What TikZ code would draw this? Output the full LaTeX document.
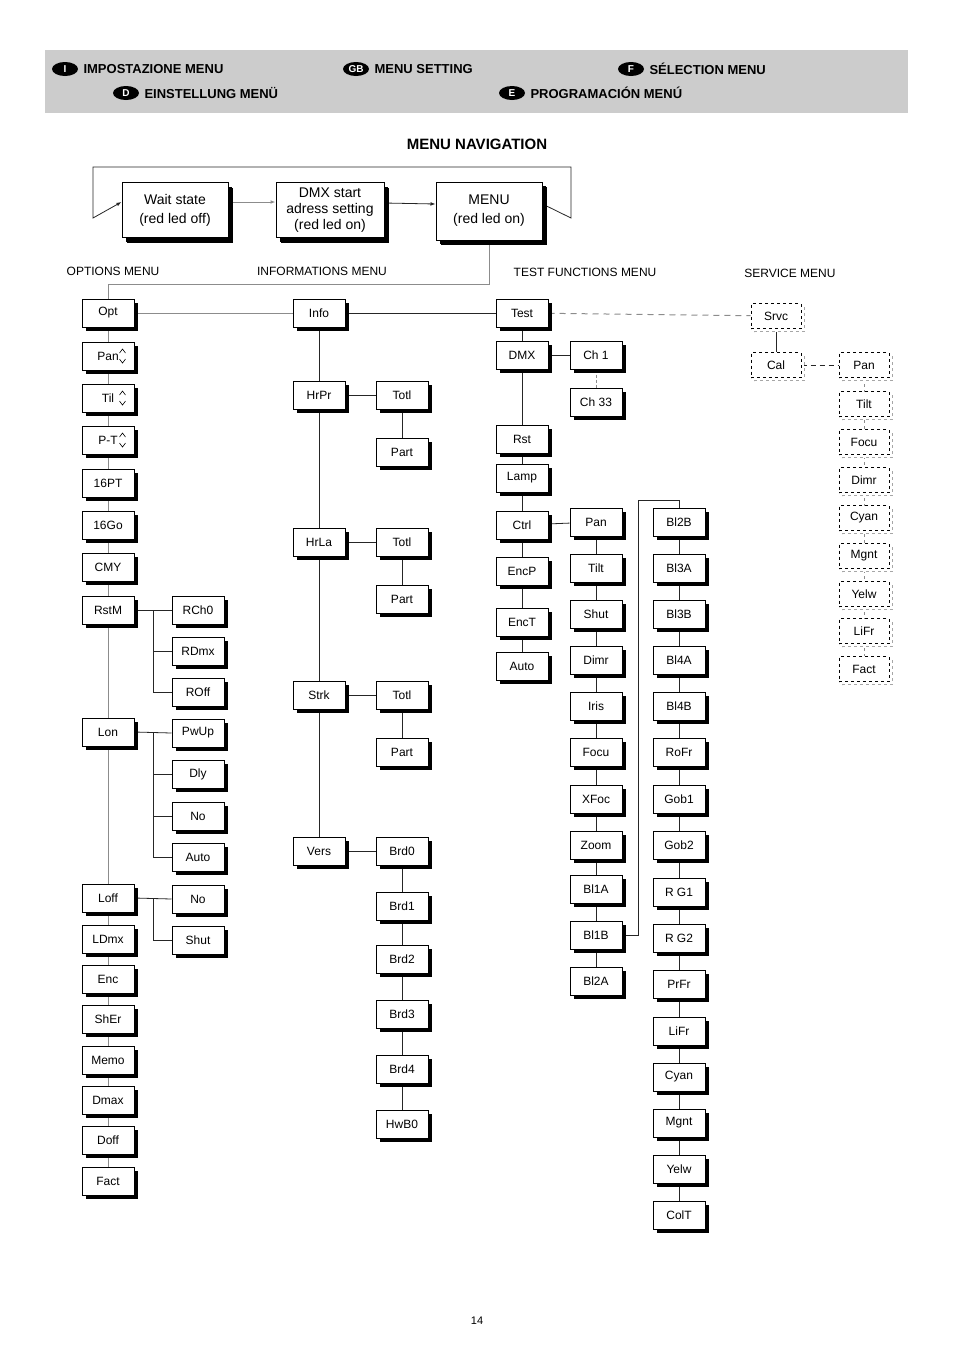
\documentclass[tikz,border=0pt]{standalone}
\usepackage{fontspec}
\setmainfont{Liberation Sans}
\usetikzlibrary{shadows,arrows.meta}
\pgfdeclarelayer{bg}\pgfsetlayers{bg,main}
\begin{document}
\begin{tikzpicture}[x=1pt,y=-1pt,
 bx/.style={draw,line width=1pt,fill=white,minimum width=52pt,minimum height=28pt,inner sep=1pt,font=\fontsize{12}{14}\selectfont,
   drop shadow={shadow xshift=4pt,shadow yshift=-4pt,fill=black,opacity=1}},
 big/.style={bx,minimum width=106pt,minimum height=55pt,align=center,font=\fontsize{14}{16}\selectfont,drop shadow={shadow xshift=5pt,shadow yshift=-5pt,fill=black,opacity=1}},
 sv/.style={draw,dashed,line width=1pt,fill=white,minimum width=50pt,minimum height=25pt,inner sep=1pt,font=\fontsize{12}{14}\selectfont,
   general shadow={shadow xshift=3pt,shadow yshift=-3pt,draw=gray!70,dashed,fill=white}},
 ln/.style={line width=0.8pt,draw=black!85},
 gl/.style={line width=1pt,draw=black!45},
 lab/.style={font=\fontsize{12}{14}\selectfont},
 badge/.style={fill=black,text=white,ellipse,inner sep=1pt,minimum width=26pt,minimum height=14pt,font=\bfseries\fontsize{10}{10}\selectfont},
 hd/.style={font=\bfseries\fontsize{13}{14}\selectfont,anchor=west}]
\usetikzlibrary{shapes.geometric}
\useasboundingbox (0,0) rectangle (954,1350);
\fill[black!20] (45,50) rectangle (908,113);
\node[badge] (b1) at (65,69) {I}; \node[hd] (h1) at (80,69) {IMPOSTAZIONE MENU};
\node[badge] (b2) at (356,69) {GB}; \node[hd] (h2) at (371,69) {MENU SETTING};
\node[badge] (b3) at (631,69) {F}; \node[hd] (h3) at (646,69) {SÉLECTION MENU};
\node[badge] (b4) at (126,93) {D}; \node[hd] (h4) at (141,93) {EINSTELLUNG MENÜ};
\node[badge] (b5) at (512,93) {E}; \node[hd] (h5) at (527,93) {PROGRAMACIÓN MENÚ};
\node[font=\bfseries\fontsize{15}{16}\selectfont] (title) at (477,144) {MENU NAVIGATION};
\node[big] (wait) at (175,210) {Wait state\\[3pt](red led off)};
\node[big,minimum width=108pt] (dmxs) at (330,210) {DMX start\\adress setting\\(red led on)};
\node[big,minimum height=58pt] (menu) at (489,211) {MENU\\[3pt](red led on)};
\node[lab] (l1) at (113,271) {OPTIONS MENU};
\node[lab] (l2) at (322,271) {INFORMATIONS MENU};
\node[lab] (l3) at (585,272) {TEST FUNCTIONS MENU};
\node[lab] (l4) at (790,273) {SERVICE MENU};
\node[font=\fontsize{11}{12}\selectfont] (pg) at (477,1321) {14};
% options
\foreach \n/\t/\y in {opt/Opt/313,pan/{Pan\hspace{10pt}}/356,til/{Til\hspace{10pt}}/398,pt/{P-T\hspace{10pt}}/440,p16/16PT/483,g16/16Go/525,cmy/CMY/567,rstm/RstM/610,lon/Lon/732,loff/Loff/898,ldmx/LDmx/939,enc/Enc/979,sher/ShEr/1019,memo/Memo/1060,dmax/Dmax/1100,doff/Doff/1140,fact/Fact/1181}
  \node[bx] (\n) at (108,\y) {\t};
\foreach \n in {pan,til,pt}{
 \draw[line width=0.6pt] ([xshift=-15pt,yshift=-3pt]\n.east) -- ([xshift=-12pt,yshift=-7pt]\n.east) -- ([xshift=-9pt,yshift=-3pt]\n.east);
 \draw[line width=0.6pt] ([xshift=-15pt,yshift=3pt]\n.east) -- ([xshift=-12pt,yshift=7pt]\n.east) -- ([xshift=-9pt,yshift=3pt]\n.east);}
\foreach \n/\t/\y in {rch/RCh0/610,rdmx/RDmx/651,roff/ROff/692,pwup/PwUp/733,dly/Dly/774,no1/No/816,auto1/Auto/857,no2/No/899,shut1/Shut/940}
  \node[bx] (\n) at (198,\y) {\t};
% info
\foreach \n/\t/\y in {info/Info/313,hrpr/HrPr/395,hrla/HrLa/542,strk/Strk/695,vers/Vers/851}
  \node[bx] (\n) at (319,\y) {\t};
\foreach \n/\t/\y in {tot1/Totl/395,par1/Part/452,tot2/Totl/542,par2/Part/599,tot3/Totl/695,par3/Part/752,brd0/Brd0/851,brd1/Brd1/906,brd2/Brd2/959,brd3/Brd3/1014,brd4/Brd4/1069,hwb0/HwB0/1124}
  \node[bx] (\n) at (402,\y) {\t};
% test
\foreach \n/\t/\y in {test/Test/313,dmx/DMX/355,rst/Rst/439,lamp/Lamp/478,ctrl/Ctrl/525,encp/EncP/571,enct/EncT/622,auto2/Auto/666}
  \node[bx] (\n) at (522,\y) {\t};
\node[bx] (ch1) at (596,355) {Ch 1};
\node[bx] (ch33) at (596,402) {Ch 33};
\foreach \n/\t/\y in {cpan/Pan/522,ctilt/Tilt/568,cshut/Shut/614,cdimr/Dimr/660,ciris/Iris/706,cfocu/Focu/752,cxfoc/XFoc/799,czoom/Zoom/845,bla/Bl1A/889,blb/Bl1B/935,bl2a/Bl2A/981}
  \node[bx] (\n) at (596,\y) {\t};
\foreach \n/\t/\y in {bl2b/Bl2B/522,bl3a/Bl3A/568,bl3b/Bl3B/614,bl4a/Bl4A/660,bl4b/Bl4B/706,rofr/RoFr/752,gob1/Gob1/799,gob2/Gob2/845,rg1/R G1/892,rg2/R G2/938,prfr/PrFr/984,lifr/LiFr/1031,cyan/Cyan/1077,mgnt/Mgnt/1123,yelw/Yelw/1169,colt/ColT/1215}
  \node[bx] (\n) at (679,\y) {\t};
% service
\node[sv] (srvc) at (776,316) {Srvc};
\node[sv] (cal) at (776,365) {Cal};
\foreach \n/\t/\y in {span/Pan/365,stilt/Tilt/404,sfocu/Focu/442,sdimr/Dimr/480,scyan/Cyan/518,smgnt/Mgnt/556,syelw/Yelw/594,slifr/LiFr/631,sfact/Fact/669}
  \node[sv] (\n) at (864,\y) {\t};
\coordinate (c1) at (571,218); \coordinate (c2) at (93,218);
\coordinate (bt) at (638,500);
\begin{pgfonlayer}{bg}
\draw[ln,-{Latex[length=5pt]}] ([yshift=7pt]menu.east) -- (c1) |- (93,167) -- (c2) -- ([yshift=8pt]wait.west);
\draw[gl,-{Latex[length=5pt]}] ([yshift=8pt]wait.east) -- ([yshift=8pt]dmxs.west);
\draw[ln,-{Latex[length=5pt]}] ([yshift=7pt]dmxs.east) -- ([yshift=7pt]menu.west);
\draw[gl] (menu.south) -- (489,284) -| (opt.north);
\draw[gl] (opt) -- (info);
\draw[ln] (info) -- (test);
\draw[dashed,gl,dash pattern=on 6pt off 5pt] (test) -- (srvc);
\draw[ln] (srvc) -- (cal);
\draw[dashed,ln,dash pattern=on 5pt off 4pt] (cal) -- (span);
\draw[dashed,gl,line width=0.7pt] (span) -- (sfact);
\draw[gl,line width=0.8pt] (opt) -- (fact);
\draw[ln] (rstm.east) -- (rch.west); \draw[ln] (153,610) |- (roff.west); \draw[ln] (153,651) -- (rdmx.west);
\draw[ln] (lon.east) -- (pwup.west); \draw[ln] (153,733) |- (auto1.west); \draw[ln] (153,774) -- (dly.west); \draw[ln] (153,816) -- (no1.west);
\draw[ln] (loff.east) -- (no2.west); \draw[ln] (153,899) |- (shut1.west);
\draw[ln] (info) -- (vers);
\draw[ln] (hrpr) -- (tot1); \draw[ln] (tot1) -- (par1);
\draw[ln] (hrla) -- (tot2); \draw[ln] (tot2) -- (par2);
\draw[ln] (strk) -- (tot3); \draw[ln] (tot3) -- (par3);
\draw[ln] (vers) -- (brd0); \draw[ln] (brd0) -- (hwb0);
\draw[ln] (test) -- (auto2);
\draw[ln] (dmx) -- (ch1);
\draw[gl,dashed,dash pattern=on 3pt off 2pt,line width=0.7pt] (ch1) -- (ch33);
\draw[ln] (ctrl) -- (cpan); \draw[ln] (cpan) -- (bl2a);
\draw[ln] (blb.east) -- (638,935) -- (bt) -| (bl2b.north);
\draw[ln] (bl2b) -- (colt);
\end{pgfonlayer}
\end{tikzpicture}
\end{document}
